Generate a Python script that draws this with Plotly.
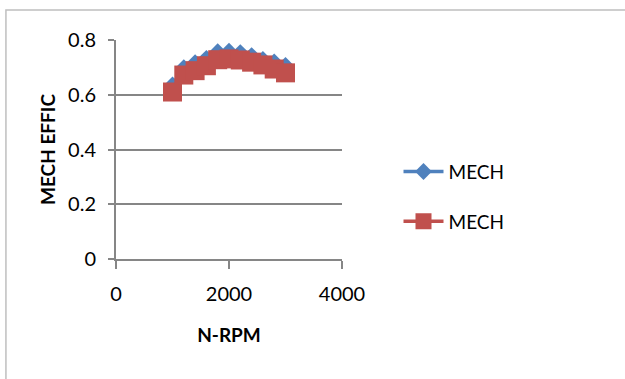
import plotly.graph_objects as go

rpm = [1000, 1200, 1400, 1600, 1800, 2000, 2200, 2400, 2600, 2800, 3000]
mech_blue = [0.636, 0.699, 0.717, 0.733, 0.757, 0.759, 0.754, 0.743, 0.729, 0.720, 0.707]
mech_red = [0.610, 0.672, 0.688, 0.706, 0.728, 0.731, 0.727, 0.719, 0.709, 0.694, 0.680]
series_names = ["MECH", "MECH"]
x_ticks = [0, 2000, 4000]
y_ticks = [0, 0.2, 0.4, 0.6, 0.8]

FONT = "Lato, Open Sans, sans-serif"
GRID = "#868686"

fig = go.Figure()
fig.add_trace(go.Scatter(
    x=rpm, y=mech_blue, name=series_names[0], mode="lines+markers",
    legendgroup="a",
    line=dict(color="#4F81BD", width=3.5),
    marker=dict(symbol="diamond", size=13, color="#4F81BD"),
))
fig.add_trace(go.Scatter(
    x=rpm, y=mech_red, name=series_names[1], mode="lines+markers",
    legendgroup="b",
    line=dict(color="#C0504D", width=3.5),
    marker=dict(symbol="square", size=19, color="#C0504D"),
))

fig.update_layout(
    width=625, height=379,
    margin=dict(l=116, r=283, t=40, b=120),
    paper_bgcolor="white", plot_bgcolor="white",
    font=dict(family=FONT, size=20, color="black"),
    showlegend=True,
    legend=dict(x=1.25, y=0.285, xanchor="left", yanchor="middle",
                font=dict(family=FONT, size=19, color="black"),
                bgcolor="rgba(0,0,0,0)", tracegroupgap=22,
                itemwidth=40),
    shapes=[dict(type="rect", xref="paper", yref="paper",
                 x0=-0.487, x1=2.5, y0=-1.0, y1=1.137,
                 line=dict(color="#BFBFBF", width=1.5), layer="below")],
)
fig.update_xaxes(
    range=[0, 4000], tickvals=x_ticks, ticktext=[str(v) for v in x_ticks],
    showgrid=False, zeroline=False, showline=True, linecolor=GRID, linewidth=2,
    ticks="outside", ticklen=8, tickwidth=2, tickcolor=GRID,
    ticklabelstandoff=8,
    title=dict(text="<b>N-RPM</b>", font=dict(family=FONT, size=19), standoff=25),
)
fig.update_yaxes(
    range=[0, 0.8], tickvals=y_ticks, ticktext=["0", "0.2", "0.4", "0.6", "0.8"],
    showgrid=True, gridcolor=GRID, gridwidth=2, zeroline=False,
    showline=True, linecolor=GRID, linewidth=2,
    ticks="outside", ticklen=6, tickwidth=2, tickcolor=GRID,
    ticklabelstandoff=8,
    title=dict(text="<b>MECH EFFIC</b>", font=dict(family=FONT, size=19), standoff=7),
)

fig.write_html("out.html")
